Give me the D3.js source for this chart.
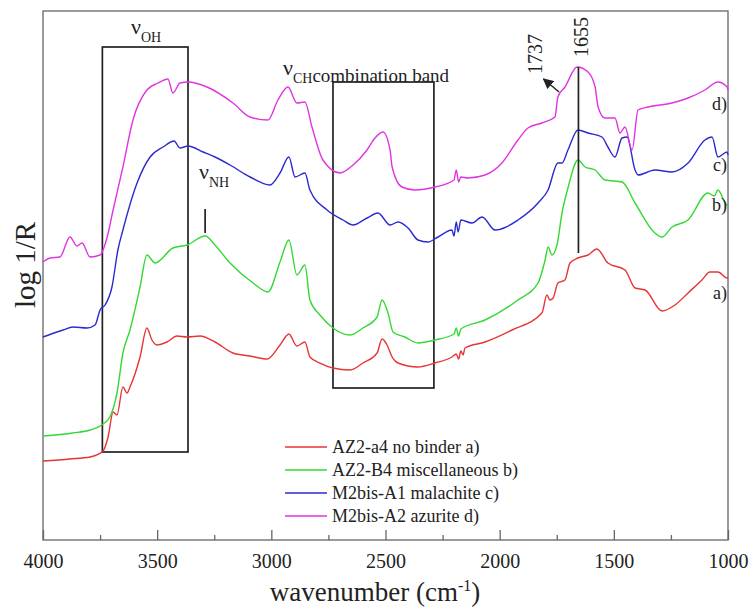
<!DOCTYPE html>
<html lang="en">
<head>
<meta charset="UTF-8">
<title>DRIFT spectra</title>
<script src="https://d3js.org/d3.v7.min.js"></script>
<style>
  body { margin: 0; background: #fff; }
  svg text { font-family: "Liberation Serif", "Times New Roman", serif; fill: #222; }
</style>
</head>
<body>
<svg id="chart" width="749" height="608" font-family="Liberation Serif, serif"></svg>
<script>
// spectra: [wavenumber cm-1, log 1/R in arbitrary units]
const specA = [[4000,79],[3882,81],[3794,83],[3737,89],[3715,103],[3693,128],[3676,125],[3650,153],[3632,147],[3619,153],[3575,183],[3545,212],[3523,200],[3501,195],[3457,198],[3413,204],[3369,203],[3312,204],[3247,198],[3168,187],[3093,184],[3019,181],[2962,195],[2923,206],[2888,194],[2853,198],[2831,183],[2787,177],[2730,172],[2655,170],[2599,177],[2537,187],[2515,201],[2493,195],[2471,183],[2445,177],[2358,173],[2283,177],[2209,183],[2190,186],[2180,181],[2170,189],[2160,185],[2152,192],[2064,198],[1946,210],[1815,227],[1793,245],[1780,240],[1766,242],[1745,257],[1714,260],[1692,277],[1657,282],[1613,285],[1574,291],[1526,277],[1451,270],[1407,252],[1363,250],[1289,229],[1232,235],[1175,247],[1114,260],[1079,268],[1044,268],[1004,262],[1000,262]];
const specB = [[4000,104],[3869,107],[3794,110],[3737,116],[3707,123],[3676,147],[3650,187],[3619,210],[3575,253],[3545,285],[3509,277],[3431,292],[3369,295],[3290,304],[3247,295],[3181,277],[3080,257],[3015,248],[2962,278],[2923,300],[2888,265],[2853,275],[2831,240],[2787,225],[2730,212],[2655,205],[2599,212],[2537,223],[2515,240],[2489,227],[2467,208],[2415,203],[2358,197],[2283,200],[2200,206],[2190,212],[2180,204],[2170,211],[2064,220],[1920,240],[1832,257],[1801,280],[1788,293],[1771,285],[1749,295],[1727,327],[1701,352],[1657,380],[1626,373],[1582,370],[1539,360],[1464,358],[1407,337],[1320,307],[1289,303],[1245,313],[1175,320],[1088,347],[1060,344],[1044,350],[1004,335],[1000,335]];
const specC = [[4000,203],[3912,210],[3869,213],[3807,212],[3772,215],[3750,230],[3728,235],[3698,253],[3672,290],[3650,310],[3588,357],[3531,383],[3474,393],[3426,399],[3400,392],[3365,394],[3299,388],[3247,383],[3181,375],[3093,363],[3006,355],[2962,367],[2923,383],[2896,363],[2853,367],[2831,350],[2756,330],[2686,320],[2642,315],[2581,322],[2533,327],[2480,315],[2445,318],[2401,312],[2358,300],[2314,298],[2270,303],[2209,310],[2200,304],[2190,318],[2182,308],[2170,320],[2121,317],[2077,323],[2020,310],[1920,320],[1832,337],[1788,350],[1745,377],[1727,377],[1701,390],[1657,410],[1613,407],[1552,403],[1526,393],[1495,383],[1464,402],[1442,403],[1407,370],[1394,365],[1320,370],[1245,368],[1175,377],[1101,400],[1070,403],[1044,383],[1004,388],[1000,385]];
const specD = [[4000,278],[3969,282],[3926,283],[3882,303],[3851,294],[3829,297],[3794,283],[3750,285],[3720,302],[3693,330],[3650,373],[3606,420],[3545,450],[3496,457],[3453,461],[3431,447],[3400,457],[3365,458],[3282,453],[3168,437],[3093,423],[3015,420],[2971,440],[2927,453],[2888,437],[2853,438],[2822,413],[2774,380],[2699,367],[2642,375],[2581,390],[2546,402],[2511,408],[2480,390],[2471,373],[2428,353],[2371,350],[2283,353],[2200,360],[2190,370],[2180,358],[2170,363],[2139,362],[2064,365],[1990,377],[1920,400],[1876,412],[1815,417],[1758,423],[1745,443],[1714,453],[1661,473],[1613,468],[1582,453],[1569,433],[1539,422],[1495,422],[1473,407],[1451,413],[1420,390],[1394,430],[1350,433],[1245,437],[1175,442],[1101,450],[1044,458],[1004,453],[1000,450]];

const seriesData = [specA, specB, specC, specD];
const legendNames = ["AZ2-a4 no binder a)", "AZ2-B4 miscellaneous b)", "M2bis-A1 malachite c)", "M2bis-A2 azurite d)"];
const endLabels = ["a)", "b)", "c)", "d)"];
const endLabelY = [241, 329, 369, 430];
const colors = ["#e83434", "#34d834", "#2a2ad0", "#e034e0"];

const xTicks = [4000, 3500, 3000, 2500, 2000, 1500, 1000];
const xMinor = [3750, 3250, 2750, 2250, 1750, 1250];

// annotation boxes in data units
const boxOH = {w0: 3740, w1: 3365, v0: 88, v1: 493};
const boxCH = {w0: 2730, w1: 2288, v0: 152, v1: 458};
const markNH = 3290, mark1655 = 1655, mark1737 = 1737;

const svg = d3.select("#chart");
const margin = {left: 43, right: 21, top: 11, bottom: 68};
const W = 749, H = 608;
const serif = "Liberation Serif, serif";

const x = d3.scaleLinear().domain([4000, 1000]).range([margin.left, W - margin.right]);
const y = d3.scaleLinear().domain([0, 529]).range([H - margin.bottom, margin.top]);

// frame
svg.append("rect")
  .attr("x", x(4000)).attr("y", y(529))
  .attr("width", x(1000) - x(4000)).attr("height", y(0) - y(529))
  .attr("fill", "none").attr("stroke", "#666").attr("stroke-width", 1.3);

// bottom axis, ticks inside
const xAxis = d3.axisBottom(x).tickValues(xTicks).tickSize(-10).tickPadding(14).tickFormat(d3.format("d"));
const gx = svg.append("g").attr("transform", `translate(0,${y(0)})`).call(xAxis)
  .attr("font-family", serif).attr("font-size", 20);
gx.select(".domain").remove();
gx.selectAll(".tick line").attr("stroke", "#666").attr("stroke-width", 1.3);
gx.selectAll(".tick text").attr("fill", "#222");
const gm = svg.append("g").attr("transform", `translate(0,${y(0)})`)
  .call(d3.axisBottom(x).tickValues(xMinor).tickSize(-5).tickFormat(""));
gm.select(".domain").remove();
gm.selectAll(".tick line").attr("stroke", "#666").attr("stroke-width", 1.3);

// axis titles
const xt = svg.append("text").attr("x", 375).attr("y", 601).attr("text-anchor", "middle").attr("font-size", 27);
xt.append("tspan").text("wavenumber (cm");
xt.append("tspan").attr("dy", -10).attr("font-size", 16).text("-1");
xt.append("tspan").attr("dy", 10).text(")");

svg.append("text").attr("transform", "translate(35,265) rotate(-90)")
  .attr("text-anchor", "middle").attr("font-size", 29).text("log 1/R");

// annotation boxes
[boxOH, boxCH].forEach(b => {
  svg.append("rect")
    .attr("x", x(b.w0)).attr("y", y(b.v1))
    .attr("width", x(b.w1) - x(b.w0)).attr("height", y(b.v0) - y(b.v1))
    .attr("fill", "none").attr("stroke", "#222").attr("stroke-width", 1.7);
});

// spectra
const line = d3.line().x(d => x(d[0])).y(d => y(d[1])).curve(d3.curveMonotoneX);
svg.append("g").selectAll("path").data(seriesData).join("path")
  .attr("d", line)
  .attr("fill", "none")
  .attr("stroke", (d, i) => colors[i])
  .attr("stroke-width", 1.4);

// marker lines
svg.append("line").attr("x1", x(mark1655)).attr("x2", x(mark1655))
  .attr("y1", y(473)).attr("y2", y(287)).attr("stroke", "#222").attr("stroke-width", 1.7);
svg.append("line").attr("x1", x(markNH)).attr("x2", x(markNH))
  .attr("y1", y(331)).attr("y2", y(307)).attr("stroke", "#222").attr("stroke-width", 1.7);

// arrow for 1737
svg.append("defs").append("marker").attr("id", "ah")
  .attr("viewBox", "0 0 10 10").attr("refX", 9).attr("refY", 5)
  .attr("markerWidth", 7).attr("markerHeight", 7).attr("orient", "auto")
  .append("path").attr("d", "M0,0 L10,5 L0,10 z").attr("fill", "#222");
svg.append("line").attr("x1", x(1740)).attr("y1", y(448))
  .attr("x2", x(1808)).attr("y2", y(461))
  .attr("stroke", "#222").attr("stroke-width", 1.5).attr("marker-end", "url(#ah)");

svg.append("text").attr("transform", `translate(${x(mark1655) + 10},57) rotate(-90)`)
  .attr("font-size", 20).text("1655");
svg.append("text").attr("transform", `translate(${x(mark1737) - 18},74) rotate(-90)`)
  .attr("font-size", 20).text("1737");

// nu labels
function nuLabel(px, py, sub, extra) {
  const t = svg.append("text").attr("x", px).attr("y", py).attr("font-size", 22);
  t.append("tspan").text("\u03bd");
  t.append("tspan").attr("dy", 8).attr("font-size", 14).text(sub);
  if (extra) t.append("tspan").attr("dy", -1).attr("font-size", 19).text(extra);
}
nuLabel(131, 34, "OH");
nuLabel(283, 75, "CH", "combination band");
nuLabel(199, 179, "NH");

// end labels
svg.append("g").selectAll("text").data(endLabels).join("text")
  .attr("x", x(1000) - 1).attr("y", (d, i) => y(endLabelY[i]))
  .attr("text-anchor", "end").attr("font-size", 18).text(d => d);

// legend
const lg = svg.append("g").attr("transform", "translate(285,447)");
legendNames.forEach((name, i) => {
  const g = lg.append("g").attr("transform", `translate(0,${i * 23})`);
  g.append("line").attr("x1", 0).attr("x2", 42).attr("stroke", colors[i]).attr("stroke-width", 1.4);
  g.append("text").attr("x", 47).attr("y", 6).attr("font-size", 18).text(name);
});
</script>
</body>
</html>
